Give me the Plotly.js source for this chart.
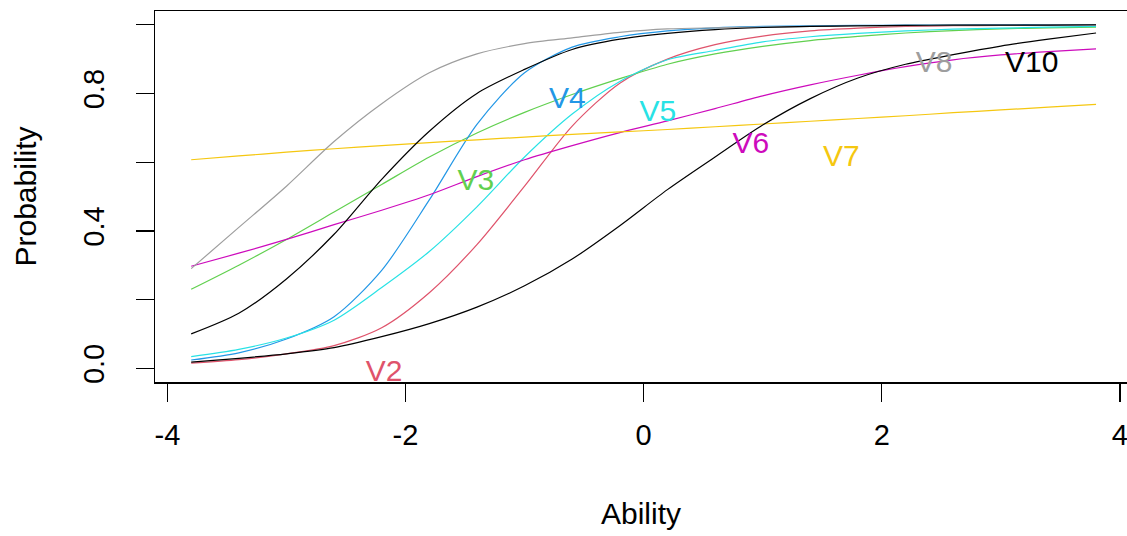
<!DOCTYPE html>
<html>
<head>
<meta charset="utf-8">
<script src="https://cdn.plot.ly/plotly-3.0.1.min.js"></script>
<style>html,body{margin:0;padding:0;background:#fff;}#chart{width:1127px;height:536px;}</style>
</head>
<body>
<div id="chart"></div>
<script>
// Ability grid
var ability = [-3.8,-3.4,-3.0,-2.6,-2.2,-1.8,-1.4,-1.0,-0.6,-0.2,0.2,0.6,1.0,1.4,1.8,2.2,2.6,3.0,3.4,3.8];

// Item characteristic curves (probabilities)
var V2  = [0.015,0.025,0.042,0.066,0.118,0.22,0.36,0.53,0.705,0.83,0.9,0.942,0.967,0.982,0.99,0.995,0.997,0.998,0.999,0.999];
var V3  = [0.23,0.30,0.375,0.455,0.535,0.615,0.685,0.745,0.797,0.843,0.885,0.915,0.937,0.954,0.966,0.976,0.983,0.988,0.991,0.993];
var V4  = [0.024,0.045,0.085,0.15,0.285,0.49,0.71,0.86,0.935,0.965,0.982,0.991,0.995,0.997,0.998,0.999,0.999,1.0,1.0,1.0];
var V5  = [0.034,0.055,0.088,0.14,0.235,0.34,0.47,0.615,0.74,0.835,0.898,0.925,0.95,0.965,0.975,0.982,0.987,0.99,0.993,0.995];
var V6  = [0.297,0.335,0.375,0.418,0.46,0.505,0.558,0.607,0.648,0.686,0.72,0.756,0.793,0.825,0.853,0.878,0.898,0.912,0.922,0.93];
var V7  = [0.607,0.618,0.629,0.639,0.648,0.657,0.665,0.673,0.681,0.688,0.695,0.703,0.711,0.719,0.727,0.735,0.744,0.752,0.76,0.768];
var V8  = [0.29,0.41,0.53,0.66,0.77,0.86,0.915,0.945,0.962,0.978,0.988,0.991,0.993,0.995,0.996,0.997,0.998,0.998,0.999,0.999];
var V9  = [0.10,0.16,0.26,0.39,0.55,0.69,0.80,0.87,0.928,0.958,0.975,0.986,0.992,0.995,0.997,0.998,0.999,0.999,0.999,1.0];
var V10 = [0.018,0.029,0.042,0.06,0.092,0.13,0.178,0.24,0.318,0.415,0.52,0.615,0.708,0.785,0.845,0.885,0.913,0.938,0.958,0.976];

var itemNames  = ["V2","V3","V4","V5","V6","V7","V8","V9","V10"];
var itemValues = [V2,V3,V4,V5,V6,V7,V8,V9,V10];
var itemColors = ["#DF536B","#61D04F","#2297E6","#28E2E5","#CD0BBC","#F5C710","#9E9E9E","#000000","#000000"];

// Item labels drawn on the plot
var labelNames  = ["V2","V3","V4","V5","V6","V7","V8","V10"];
var labelX      = [-2.18,-1.41,-0.64,0.12,0.90,1.66,2.44,3.26];
var labelY      = [-0.014,0.542,0.78,0.742,0.648,0.61,0.883,0.883];
var labelColors = ["#DF536B","#61D04F","#2297E6","#28E2E5","#CD0BBC","#F5C710","#9E9E9E","#000000"];

// Axis ticks
var xTicks = [-4,-2,0,2,4];
var xTickText = ["-4","-2","0","2","4"];
var yTicks = [0,0.2,0.4,0.6,0.8,1.0];
var yTickText = ["0.0","","0.4","","0.8",""];

var FONT = "Liberation Sans, Arial, sans-serif";
var traces = [];
for (var i = 0; i < itemNames.length; i++) {
  traces.push({
    x: ability, y: itemValues[i], name: itemNames[i], type: "scatter", mode: "lines",
    line: {color: itemColors[i], width: 1.2, shape: "spline", smoothing: 0.8},
    hoverinfo: "name+x+y"
  });
}
traces.push({
  x: labelX, y: labelY, text: labelNames, type: "scatter", mode: "text",
  textposition: "middle center", cliponaxis: true,
  textfont: {family: FONT, size: 30, color: labelColors},
  hoverinfo: "skip"
});

var layout = {
  width: 1127, height: 536,
  margin: {l: 155, r: 0, t: 11, b: 154, pad: 0},
  paper_bgcolor: "#fff", plot_bgcolor: "#fff",
  showlegend: false,
  font: {family: FONT, color: "#000"},
  xaxis: {
    range: [-4.104, 4.06], tickmode: "array", tickvals: xTicks, ticktext: xTickText,
    ticks: "outside", ticklen: 18, tickwidth: 1.3, tickcolor: "#000",
    ticklabelstandoff: 9, ticklabeloverflow: "allow",
    showline: true, linecolor: "#000", linewidth: 1.5, mirror: true,
    showgrid: false, zeroline: false,
    tickfont: {family: FONT, size: 29, color: "#000"},
    title: {text: "Ability", font: {family: FONT, size: 30, color: "#000"}, standoff: 52},
    automargin: false
  },
  yaxis: {
    range: [-0.04, 1.04], tickmode: "array", tickvals: yTicks, ticktext: yTickText,
    ticks: "outside", ticklen: 18, tickwidth: 1.3, tickcolor: "#000",
    tickangle: -90, ticklabelstandoff: 20,
    showline: true, linecolor: "#000", linewidth: 1.5, mirror: false,
    showgrid: false, zeroline: false,
    tickfont: {family: FONT, size: 29, color: "#000"},
    title: {text: "Probability", font: {family: FONT, size: 30, color: "#000"}, standoff: 32},
    automargin: false
  }
};

Plotly.newPlot("chart", traces, layout, {displayModeBar: false, staticPlot: true});
</script>
</body>
</html>
